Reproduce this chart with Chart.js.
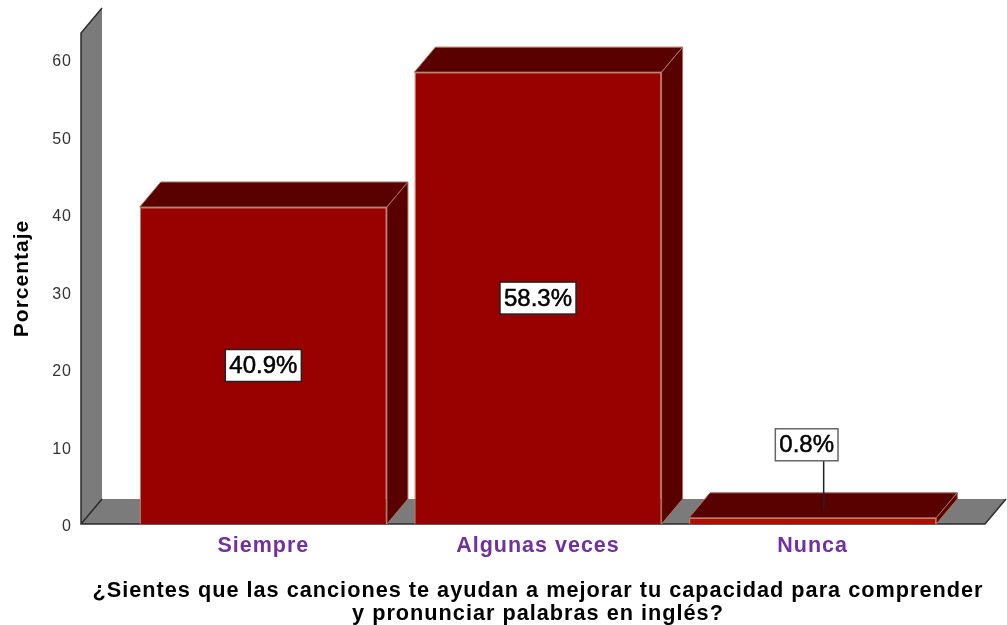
<!DOCTYPE html>
<html>
<head>
<meta charset="utf-8">
<title>Canciones</title>
<script src="https://cdn.jsdelivr.net/npm/chart.js@4/dist/chart.umd.min.js"></script>
<style>
  html, body { margin: 0; padding: 0; background: #fff; }
  canvas { display: block; filter: blur(0.5px); }
</style>
</head>
<body>
<canvas id="barChart" width="1007" height="625"></canvas>
<script>
const categories = ['Siempre', 'Algunas veces', 'Nunca'];
const percentages = [40.9, 58.3, 0.8];
const yTicks = [0, 10, 20, 30, 40, 50, 60];
const yMax = 63.35;
const yTitle = 'Porcentaje';
const xTitle = [
    '¿Sientes que las canciones te ayudan a mejorar tu capacidad para comprender',
    'y pronunciar palabras en inglés?'
];

const FONT = '"Liberation Sans", Arial, sans-serif';
const depthX = 21;
const depthY = 25;

function poly(ctx, pts, fill, stroke) {
    ctx.beginPath();
    pts.forEach(function (p, i) {
        if (i === 0) ctx.moveTo(p[0], p[1]);
        else ctx.lineTo(p[0], p[1]);
    });
    ctx.closePath();
    ctx.fillStyle = fill;
    ctx.fill();
    if (stroke) {
        ctx.strokeStyle = stroke;
        ctx.lineWidth = 1;
        ctx.stroke();
    }
}

// wall and floor behind the bars
const backdrop = {
    id: 'backdrop',
    beforeDraw(chart) {
        // the axis text in the picture is a little spread out
        chart.ctx.letterSpacing = '1px';
    },
    beforeDatasetsDraw(chart) {
        const ctx = chart.ctx;
        const y = chart.scales.y;
        const area = chart.chartArea;
        const base = y.getPixelForValue(0);
        const top = y.getPixelForValue(yMax);
        const left = area.left - 45;
        const right = area.right + 35;
        ctx.save();
        poly(ctx, [[left, base], [left + depthX, base - depthY], [left + depthX, top - depthY], [left, top]], '#7b7b7b');
        poly(ctx, [[left, base], [right, base], [right + depthX, base - depthY], [left + depthX, base - depthY]], '#7b7b7b');
        ctx.strokeStyle = '#2b2b2b';
        ctx.lineWidth = 1.5;
        ctx.beginPath();
        ctx.moveTo(left + depthX, top - depthY);
        ctx.lineTo(left, top);
        ctx.lineTo(left, base);
        ctx.lineTo(right, base);
        ctx.lineTo(right + depthX, base - depthY);
        ctx.moveTo(left, base);
        ctx.lineTo(left + depthX, base - depthY);
        ctx.stroke();
        ctx.restore();

        // top and side of each bar go behind its front face
        chart.getDatasetMeta(0).data.forEach(function (bar) {
            const l = bar.x - bar.width / 2;
            const r = bar.x + bar.width / 2;
            const t = bar.y;
            const edge = '#a8705a';
            poly(ctx, [[l, t], [r, t], [r + depthX, t - depthY], [l + depthX, t - depthY]], '#590000', edge);
            poly(ctx, [[r, t], [r + depthX, t - depthY], [r + depthX, base - depthY], [r, base]], '#590000', edge);
        });
    }
};

// value boxes, the small bar gets a callout above it
const valueBoxes = {
    id: 'valueBoxes',
    afterDatasetsDraw(chart) {
        const ctx = chart.ctx;
        const y = chart.scales.y;
        const base = y.getPixelForValue(0);
        ctx.save();
        ctx.letterSpacing = '0px';
        ctx.font = '24px ' + FONT;
        ctx.textAlign = 'center';
        ctx.textBaseline = 'middle';
        chart.getDatasetMeta(0).data.forEach(function (bar, i) {
            const text = percentages[i].toFixed(1) + '%';
            const w = ctx.measureText(text).width + 8;
            const h = 32;
            const small = percentages[i] < 5;
            const cx = small ? bar.x - 6 : bar.x;
            const cy = small ? bar.y - 73 : (bar.y + base) / 2;
            if (small) {
                ctx.strokeStyle = '#222';
                ctx.lineWidth = 1.5;
                ctx.beginPath();
                ctx.moveTo(bar.x + 11, cy + h / 2);
                ctx.lineTo(bar.x + 11, bar.y - 8);
                ctx.stroke();
            }
            ctx.fillStyle = '#fff';
            ctx.fillRect(cx - w / 2, cy - h / 2, w, h);
            ctx.strokeStyle = small ? '#666' : '#222';
            ctx.lineWidth = 1.5;
            ctx.strokeRect(cx - w / 2, cy - h / 2, w, h);
            ctx.fillStyle = '#000';
            ctx.strokeStyle = '#000';
            ctx.lineWidth = 0.5;
            ctx.fillText(text, cx, cy + 1);
            ctx.strokeText(text, cx, cy + 1);
        });
        ctx.restore();
    },
    // the library would squeeze this title into the plot width, it is wider than that
    afterDraw(chart) {
        const ctx = chart.ctx;
        const area = chart.chartArea;
        ctx.save();
        ctx.font = 'bold 21.7px ' + FONT;
        ctx.fillStyle = '#000';
        ctx.textAlign = 'center';
        ctx.textBaseline = 'middle';
        xTitle.forEach(function (line, i) {
            ctx.fillText(line, (area.left + area.right) / 2, area.bottom + 67 + i * 23);
        });
        ctx.restore();
    }
};

new Chart(document.getElementById('barChart'), {
    type: 'bar',
    data: {
        labels: categories,
        datasets: [{
            data: percentages,
            backgroundColor: ['#990000', '#990000', '#b00f00'],
            borderColor: '#b8826a',
            borderWidth: 1.2,
            categoryPercentage: 1,
            barPercentage: 0.9
        }]
    },
    plugins: [backdrop, valueBoxes],
    options: {
        responsive: false,
        animation: false,
        layout: { padding: { top: 33, right: 57, left: 0, bottom: 0 } },
        plugins: {
            legend: { display: false },
            tooltip: { enabled: false }
        },
        scales: {
            x: {
                afterFit(scale) { scale.height = 101; },
                grid: { display: false, drawTicks: false },
                border: { display: false },
                ticks: {
                    color: '#7030a0',
                    padding: 9,
                    font: { family: FONT, size: 21.5, weight: 'bold' }
                }
            },
            y: {
                min: 0,
                max: yMax,
                afterFit(scale) {
                    // tick padding also ends up as vertical padding, drop that
                    scale.width = 126;
                    scale.paddingTop = 0;
                    scale.paddingBottom = 0;
                },
                afterBuildTicks(scale) { scale.ticks = yTicks.map(function (v) { return { value: v }; }); },
                grid: { display: false, drawTicks: false },
                border: { display: false },
                ticks: {
                    color: '#333',
                    padding: 54,
                    labelOffset: 3,
                    font: { family: FONT, size: 16 }
                },
                title: {
                    display: true,
                    text: yTitle,
                    color: '#000',
                    padding: { top: 10, bottom: 0 },
                    font: { family: FONT, size: 21, weight: 'bold' }
                }
            }
        }
    }
});
</script>
</body>
</html>
